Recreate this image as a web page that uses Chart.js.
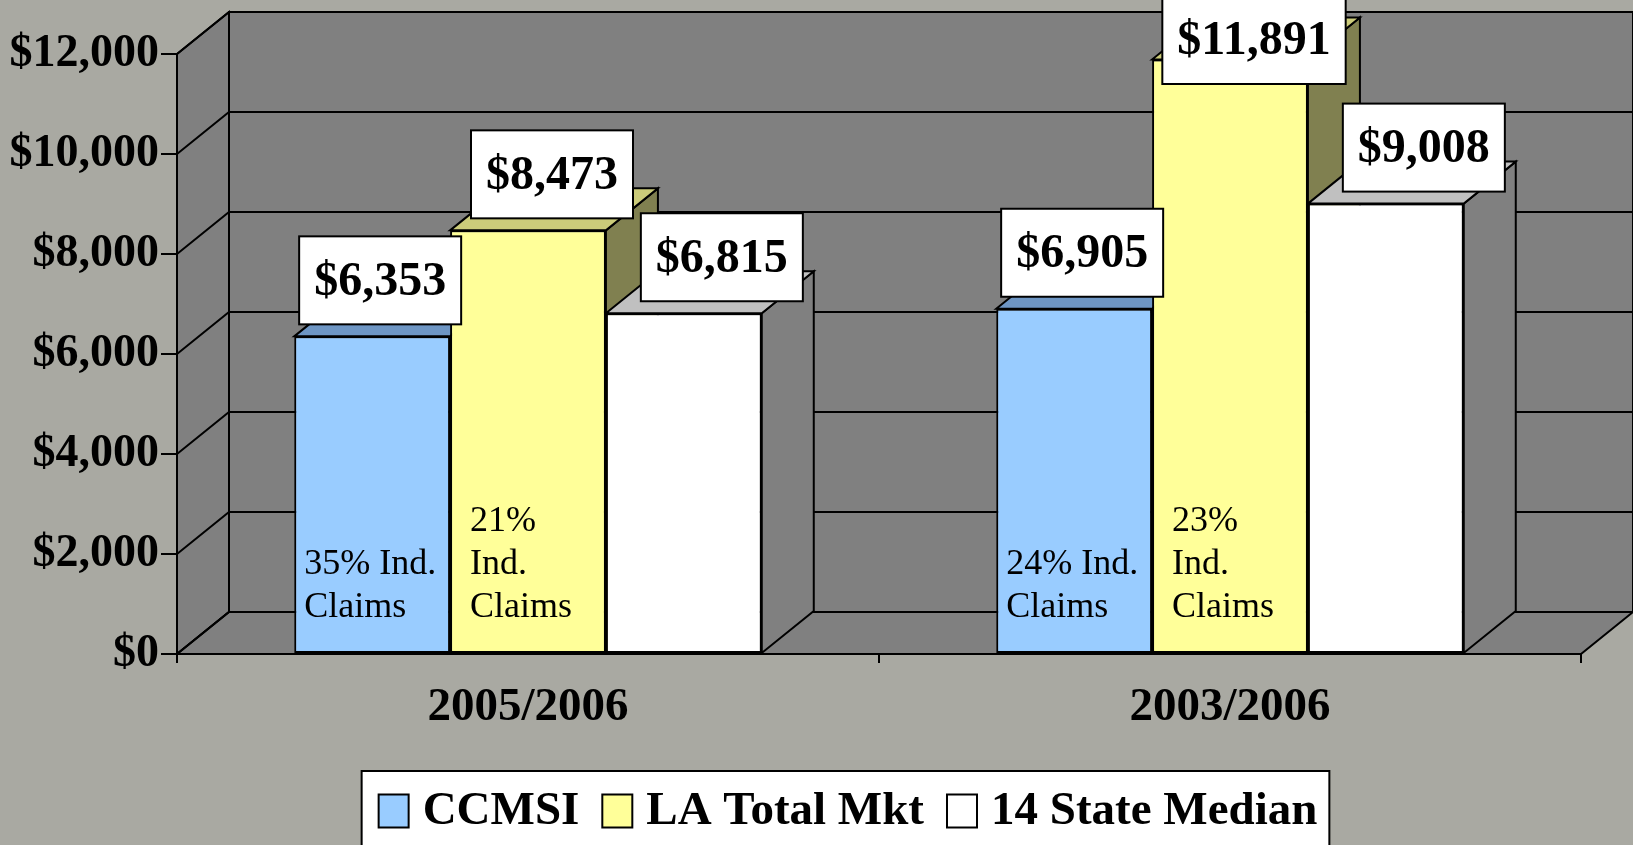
<!DOCTYPE html>
<html>
<head>
<meta charset="utf-8">
<script src="https://cdn.jsdelivr.net/npm/chart.js@4.4.1/dist/chart.umd.min.js"></script>
<style>
  html, body { margin: 0; padding: 0; background: #A9A9A2; }
  #wrap { width: 1633px; height: 845px; }
</style>
</head>
<body>
<div id="wrap"><canvas id="chart" width="1633" height="845"></canvas></div>
<script>
// data
const categories = ["2005/2006", "2003/2006"];
const seriesNames = ["CCMSI", "LA Total Mkt", "14 State Median"];
const ccmsi = [6353, 6905];
const laTotalMkt = [8473, 11891];
const stateMedian = [6815, 9008];
const yTicks = [0, 2000, 4000, 6000, 8000, 10000, 12000];
// text boxes written inside the bars (per series, per category)
const barNotes = [
  [["35% Ind.", "Claims"], ["24% Ind.", "Claims"]],
  [["21%", "Ind.", "Claims"], ["23%", "Ind.", "Claims"]],
  [[], []],
];

const DX = 52, DY = -42; // depth of the 3d box
const serif = '"Liberation Serif", "Times New Roman", serif';

function poly(ctx, pts, fill) {
  ctx.beginPath();
  ctx.moveTo(pts[0][0], pts[0][1]);
  for (let i = 1; i < pts.length; i++) ctx.lineTo(pts[i][0], pts[i][1]);
  ctx.closePath();
  ctx.fillStyle = fill;
  ctx.fill();
  ctx.lineWidth = 2;
  ctx.strokeStyle = "#000";
  ctx.stroke();
}

const box3d = {
  id: "box3d",
  beforeDraw(chart) {
    const ctx = chart.ctx;
    ctx.save();
    ctx.fillStyle = "#A9A9A2";
    ctx.fillRect(0, 0, chart.width, chart.height);
    ctx.restore();
  },
  beforeDatasetsDraw(chart) {
    const { ctx, chartArea: a } = chart;
    const y = chart.scales.y;
    ctx.save();
    // walls and floor
    poly(ctx, [[a.left + DX, a.top + DY], [a.right + DX, a.top + DY], [a.right + DX, a.bottom + DY], [a.left + DX, a.bottom + DY]], "#808080");
    poly(ctx, [[a.left, a.top], [a.left + DX, a.top + DY], [a.left + DX, a.bottom + DY], [a.left, a.bottom]], "#808080");
    poly(ctx, [[a.left, a.bottom], [a.left + DX, a.bottom + DY], [a.right + DX, a.bottom + DY], [a.right, a.bottom]], "#808080");
    // gridlines on side and back wall
    ctx.strokeStyle = "#000";
    ctx.lineWidth = 2;
    y.ticks.forEach((t) => {
      const py = y.getPixelForValue(t.value);
      ctx.beginPath();
      ctx.moveTo(a.left, py);
      ctx.lineTo(a.left + DX, py + DY);
      ctx.lineTo(a.right + DX, py + DY);
      ctx.stroke();
    });
    // tops and sides of bars, left to right
    const n = chart.data.labels.length;
    for (let i = 0; i < n; i++) {
      chart.data.datasets.forEach((ds, d) => {
        const bar = chart.getDatasetMeta(d).data[i];
        const l = bar.x - bar.width / 2, r = bar.x + bar.width / 2;
        const t = bar.y, b = bar.base;
        poly(ctx, [[r, t], [r + DX, t + DY], [r + DX, b + DY], [r, b]], ds.sideColor);
        poly(ctx, [[l, t], [l + DX, t + DY], [r + DX, t + DY], [r, t]], ds.topColor);
      });
    }
    ctx.restore();
  },
  afterDatasetsDraw(chart) {
    const ctx = chart.ctx;
    ctx.save();
    // notes inside bars
    ctx.font = "36px " + serif;
    ctx.fillStyle = "#000";
    ctx.textAlign = "left";
    ctx.textBaseline = "middle";
    chart.data.datasets.forEach((ds, d) => {
      chart.getDatasetMeta(d).data.forEach((bar, i) => {
        const lines = barNotes[d][i];
        const l = bar.x - bar.width / 2;
        lines.forEach((txt, k) => {
          const yy = bar.base - 45 - (lines.length - 1 - k) * 43;
          ctx.fillText(txt, l + ds.notePad, yy);
        });
      });
    });
    // value labels
    ctx.font = "bold 48px " + serif;
    ctx.textAlign = "center";
    chart.data.datasets.forEach((ds, d) => {
      chart.getDatasetMeta(d).data.forEach((bar, i) => {
        const txt = "$" + ds.data[i].toLocaleString("en-US");
        const w = ctx.measureText(txt).width + 30, h = 88;
        const cx = bar.x + ds.labelShift;
        let top = bar.y - 56 - h / 2;
        if (top < -4) top = -4;
        ctx.fillStyle = "#fff";
        ctx.fillRect(cx - w / 2, top, w, h);
        ctx.strokeStyle = "#000";
        ctx.lineWidth = 2;
        ctx.strokeRect(cx - w / 2, top, w, h);
        ctx.fillStyle = "#000";
        ctx.fillText(txt, cx, top + h / 2 + 2);
      });
    });
    ctx.restore();
  },
  afterDraw(chart) {
    // legend box at the bottom
    const ctx = chart.ctx;
    const sets = chart.data.datasets;
    ctx.save();
    ctx.font = "bold 47px " + serif;
    const sw = 30, sh = 33, gapIn = 14, gapOut = 23;
    const widths = sets.map((ds) => ctx.measureText(ds.label).width);
    const total = widths.reduce((s, w) => s + w, 0) + sets.length * (sw + gapIn) + (sets.length - 1) * gapOut;
    let x = 848 - total / 2;
    const cy = 811;
    ctx.fillStyle = "#fff";
    ctx.fillRect(x - 17, 771, total + 29, 100);
    ctx.strokeStyle = "#000";
    ctx.lineWidth = 2;
    ctx.strokeRect(x - 17, 771, total + 29, 100);
    ctx.textAlign = "left";
    ctx.textBaseline = "middle";
    sets.forEach((ds, d) => {
      ctx.fillStyle = ds.backgroundColor;
      ctx.fillRect(x, cy - sh / 2, sw, sh);
      ctx.strokeRect(x, cy - sh / 2, sw, sh);
      x += sw + gapIn;
      ctx.fillStyle = "#000";
      ctx.fillText(ds.label, x, cy + 1);
      x += widths[d] + gapOut;
    });
    ctx.restore();
  },
};

const ctx = document.getElementById("chart");
new Chart(ctx, {
  type: "bar",
  data: {
    labels: categories,
    datasets: [
      {
        label: seriesNames[0],
        data: ccmsi,
        backgroundColor: "#99CCFF",
        topColor: "#6E96C4",
        sideColor: "#4D6680",
        labelShift: 8,
        notePad: 10,
      },
      {
        label: seriesNames[1],
        data: laTotalMkt,
        backgroundColor: "#FFFF99",
        topColor: "#CCCC7A",
        sideColor: "#808050",
        labelShift: 24,
        notePad: 20,
      },
      {
        label: seriesNames[2],
        data: stateMedian,
        backgroundColor: "#FFFFFF",
        topColor: "#C0C0C0",
        sideColor: "#808080",
        labelShift: 38,
        notePad: 10,
      },
    ],
  },
  options: {
    responsive: false,
    devicePixelRatio: 1,
    animation: false,
    datasets: {
      bar: {
        borderColor: "#000",
        borderWidth: 2,
        borderSkipped: false,
        categoryPercentage: 0.666,
        barPercentage: 1,
      },
    },
    layout: {
      autoPadding: false,
      padding: { top: 54, right: 52, left: 0, bottom: 0 },
    },
    plugins: {
      legend: { display: false },
      tooltip: { enabled: false },
    },
    scales: {
      x: {
        afterFit: (s) => { s.height = 191; },
        grid: { drawOnChartArea: false, color: "#000", lineWidth: 2, tickLength: 9 },
        border: { color: "#000", width: 2 },
        ticks: {
          color: "#000",
          padding: 17,
          font: { family: serif, size: 47, weight: "bold" },
        },
      },
      y: {
        min: 0,
        max: 12000,
        afterFit: (s) => { s.width = 177; },
        afterBuildTicks: (s) => { s.ticks = yTicks.map((v) => ({ value: v })); },
        grid: { drawOnChartArea: false, color: "#000", lineWidth: 2, tickLength: 16 },
        border: { color: "#000", width: 2 },
        ticks: {
          color: "#000",
          padding: 2,
          font: { family: serif, size: 46, weight: "bold" },
          callback: (v) => "$" + v.toLocaleString("en-US"),
        },
      },
    },
  },
  plugins: [box3d],
});
</script>
</body>
</html>
